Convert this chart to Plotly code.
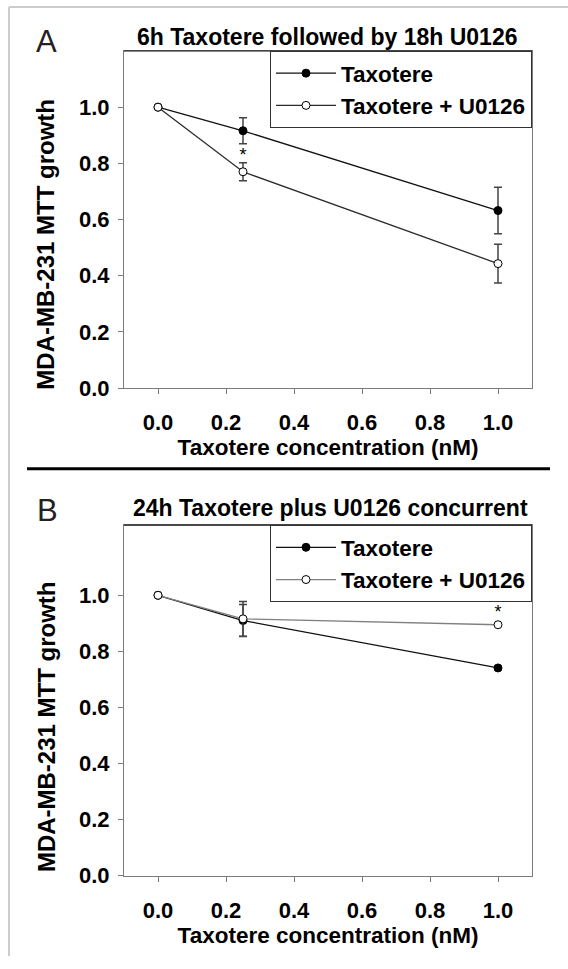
import plotly.graph_objects as go

# ---------------- data ----------------
conc = [0.0, 0.25, 1.0]

a_tax = [1.0, 0.916, 0.632]
a_tax_err = [None, 0.046, 0.083]
a_combo = [1.0, 0.770, 0.443]
a_combo_err = [None, 0.032, 0.069]

b_tax = [1.0, 0.910, 0.741]
b_tax_err = [None, 0.057, 0.006]
b_combo = [1.0, 0.916, 0.895]
b_combo_err = [None, 0.062, None]

a_sig_x = [0.25]
a_sig_y = [0.823]
b_sig_x = [1.0]
b_sig_y = [0.935]

x_ticks = [0.0, 0.2, 0.4, 0.6, 0.8, 1.0]
y_ticks = [0.0, 0.2, 0.4, 0.6, 0.8, 1.0]
series_names = ["Taxotere", "Taxotere + U0126"]
panel_titles = ["6h Taxotere followed by 18h U0126", "24h Taxotere plus U0126 concurrent"]
panel_labels = ["A", "B"]
x_title = "Taxotere concentration (nM)"
y_title = "MDA-MB-231 MTT growth"

# ---------------- figure ----------------
W, H = 568, 969
FONT = "Liberation Sans, Arial, sans-serif"

def px_x(p):
    return p / W

def px_y(p):
    return 1 - p / H

fig = go.Figure()

def add_panel(xa, ya, leg, tax, tax_err, combo, combo_err, sig_x, sig_y, combo_line):
    fig.add_trace(go.Scatter(
        x=conc, y=tax, name=series_names[0], mode="lines+markers",
        xaxis=xa, yaxis=ya, legend=leg,
        line=dict(color="#111111", width=1.3),
        marker=dict(symbol="circle", size=8, color="#000000",
                    line=dict(color="#000000", width=1)),
        error_y=dict(type="data", array=tax_err, visible=True,
                     color="#444444", thickness=1.5, width=4),
    ))
    fig.add_trace(go.Scatter(
        x=conc, y=combo, name=series_names[1], mode="lines+markers",
        xaxis=xa, yaxis=ya, legend=leg,
        line=dict(color=combo_line, width=1.3),
        marker=dict(symbol="circle", size=8, color="#ffffff",
                    line=dict(color="#000000", width=1)),
        error_y=dict(type="data", array=combo_err, visible=True,
                     color="#444444", thickness=1.5, width=4),
    ))
    fig.add_trace(go.Scatter(
        x=sig_x, y=sig_y, mode="text", text=["*"] * len(sig_x),
        textposition="middle center", showlegend=False,
        textfont=dict(family=FONT, size=18, color="#000000"),
        xaxis=xa, yaxis=ya, hoverinfo="skip",
    ))

add_panel("x", "y", "legend", a_tax, a_tax_err, a_combo, a_combo_err,
          a_sig_x, a_sig_y, "#2a2a2a")
add_panel("x2", "y2", "legend2", b_tax, b_tax_err, b_combo, b_combo_err,
          b_sig_x, b_sig_y, "#808080")

x_dom = [px_x(124), px_x(532)]
a_dom = [px_y(393.3), px_y(51.7)]
b_dom = [px_y(887.7), px_y(532.3)]

axis_common = dict(
    showgrid=False, zeroline=False, showline=True, linecolor="#7a7a7a",
    linewidth=1, mirror=True, ticks="outside", ticklen=5, tickwidth=1,
    tickcolor="#7a7a7a",
    tickfont=dict(family=FONT, size=22, color="#000000", weight="bold"),
)

def xaxis_cfg(anchor, standoff):
    return dict(axis_common, domain=x_dom, range=[-0.1, 1.1], anchor=anchor,
                tickvals=x_ticks, ticktext=[f"{v:.1f}" for v in x_ticks],
                ticklabelstandoff=10,
                title=dict(text=x_title, standoff=standoff,
                           font=dict(family=FONT, size=22.5, color="#000000",
                                     weight="bold")))

def yaxis_cfg(anchor, dom, top):
    return dict(axis_common, domain=dom, range=[0, top], anchor=anchor,
                tickvals=y_ticks, ticktext=[f"{v:.1f}" for v in y_ticks],
                ticklabelstandoff=4)

legend_font = dict(family=FONT, size=22.5, color="#000000", weight="bold")

fig.update_layout(
    width=W, height=H, autosize=False,
    margin=dict(l=0, r=0, t=0, b=0),
    paper_bgcolor="#ffffff", plot_bgcolor="#ffffff",
    font=dict(family=FONT, color="#000000"),
    xaxis=xaxis_cfg("y", 0),
    yaxis=yaxis_cfg("x", a_dom, 1.2),
    xaxis2=xaxis_cfg("y2", 3),
    yaxis2=yaxis_cfg("x2", b_dom, 1.25),
    legend=dict(x=px_x(532), y=px_y(51.7), xanchor="right", yanchor="top",
                bgcolor="#ffffff", bordercolor="#333333", borderwidth=1,
                itemwidth=60, font=legend_font),
    legend2=dict(x=px_x(532), y=px_y(532.3), xanchor="right", yanchor="top",
                 bgcolor="#ffffff", bordercolor="#333333", borderwidth=1,
                 itemwidth=60, font=legend_font),
    showlegend=True,
)

annotations = []
for ty, cx, cy in [(panel_titles[0], 326.5, 37), (panel_titles[1], 330, 515)]:
    annotations.append(dict(
        text=ty, x=px_x(cx), y=px_y(cy), xref="paper", yref="paper",
        xanchor="center", yanchor="middle", showarrow=False,
        font=dict(family=FONT, size=23, color="#000000", weight="bold")))
for lab, cx, cy in [(panel_labels[0], 46, 42), (panel_labels[1], 47, 517)]:
    annotations.append(dict(
        text=lab, x=px_x(cx), y=px_y(cy), xref="paper", yref="paper",
        xanchor="center", yanchor="middle", showarrow=False,
        font=dict(family=FONT, size=31, color="#222222")))
for cy in [248, 737]:
    annotations.append(dict(
        text=y_title, x=px_x(46), y=px_y(cy), xref="paper", yref="paper",
        xanchor="center", yanchor="middle", showarrow=False, textangle=-90,
        font=dict(family=FONT, size=24, color="#000000", weight="bold")))
fig.update_layout(annotations=annotations)

shapes = [
    # separator between panels
    dict(type="line", xref="paper", yref="paper", x0=px_x(27), x1=px_x(550),
         y0=px_y(475), y1=px_y(475), line=dict(color="#000000", width=3)),
    # light page frame
    dict(type="line", xref="paper", yref="paper", x0=px_x(9), x1=px_x(9),
         y0=px_y(7), y1=0, line=dict(color="#cccccc", width=2)),
    dict(type="line", xref="paper", yref="paper", x0=px_x(9), x1=1,
         y0=px_y(7), y1=px_y(7), line=dict(color="#cccccc", width=2)),
    # darker top edge of each plot box
    dict(type="line", xref="x domain", yref="y domain", x0=0, x1=1, y0=1, y1=1,
         line=dict(color="#111111", width=1.2)),
    dict(type="line", xref="x2 domain", yref="y2 domain", x0=0, x1=1, y0=1, y1=1,
         line=dict(color="#111111", width=1.2)),
]
fig.update_layout(shapes=shapes)

page_js = (
    "document.documentElement.style.margin='0px';"
    "document.documentElement.style.overflow='hidden';"
    "document.body.style.margin='0px';"
    "document.body.style.padding='0px';"
    "document.body.style.overflow='hidden';"
)
fig.write_html("out.html", post_script=page_js,
               config={"displayModeBar": False, "responsive": False})
